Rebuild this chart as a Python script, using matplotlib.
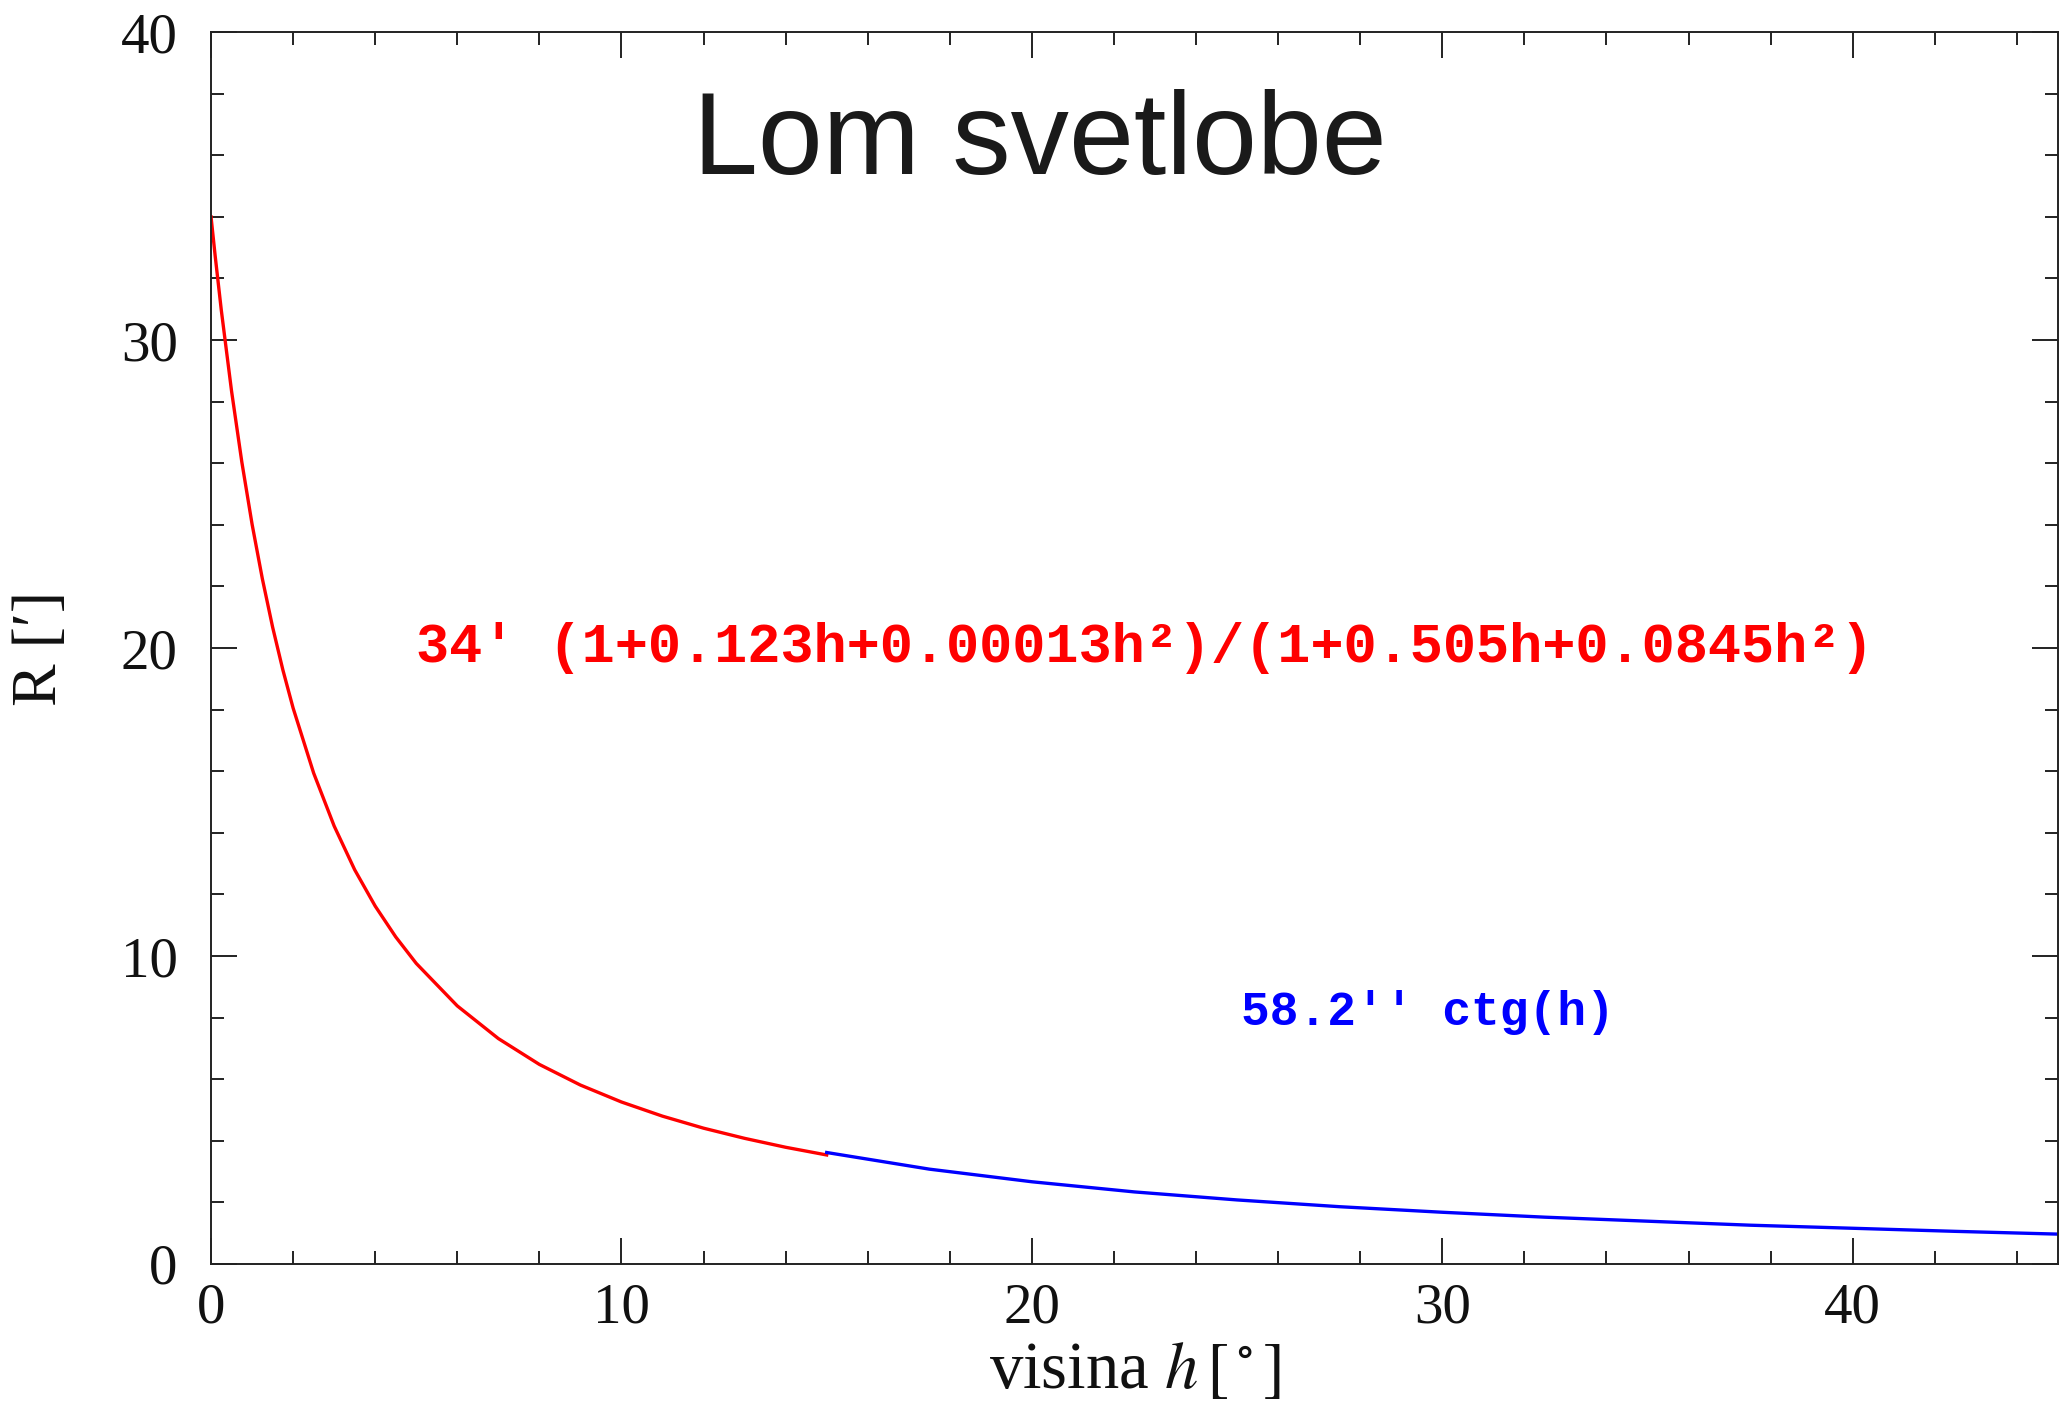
import matplotlib
matplotlib.use("Agg")
import matplotlib.pyplot as plt
from matplotlib.ticker import MultipleLocator

# refraction R [arcmin]
h_red = [0, 0.1, 0.25, 0.5, 0.75, 1, 1.25, 1.5, 1.75, 2, 2.5, 3, 3.5, 4, 4.5,
         5, 6, 7, 8, 9, 10, 11, 12, 13, 14, 15]
r_red = [34.0, 32.74, 30.97, 28.34, 26.04, 24.02, 22.25, 20.68, 19.29, 18.05,
         15.94, 14.22, 12.80, 11.62, 10.62, 9.76, 8.38, 7.32, 6.48, 5.81,
         5.26, 4.80, 4.41, 4.08, 3.79, 3.54]

h_blue = [15, 17.5, 20, 22.5, 25, 27.5, 30, 32.5, 35, 37.5, 40, 42.5, 45]
r_blue = [3.62, 3.08, 2.67, 2.34, 2.08, 1.86, 1.68, 1.52, 1.39, 1.26, 1.16,
          1.06, 0.97]

title = "Lom svetlobe"
red_label = "34' (1+0.123h+0.00013h²)/(1+0.505h+0.0845h²)"
blue_label = "58.2'' ctg(h)"

plt.rcParams['mathtext.fontset'] = 'stix'
serif = ['Liberation Serif', 'DejaVu Serif']
mono = ['Liberation Mono', 'DejaVu Sans Mono']

fig = plt.figure(figsize=(20.67, 14.06), dpi=100)
ax = fig.add_axes([0.1021, 0.1010, 0.8935, 0.8762])

ax.plot(h_red, r_red, color='#ff0000', lw=2.4)
ax.plot(h_blue, r_blue, color='#0000ff', lw=2.4)

ax.set_xlim(0, 45)
ax.set_ylim(0, 40)
ax.xaxis.set_major_locator(MultipleLocator(10))
ax.xaxis.set_minor_locator(MultipleLocator(2))
ax.yaxis.set_major_locator(MultipleLocator(10))
ax.yaxis.set_minor_locator(MultipleLocator(2))

ax.tick_params(which='both', direction='in', top=True, right=True,
               color='#222222', width=1.4)
ax.tick_params(which='major', length=18.5)
ax.tick_params(which='minor', length=9.5)
ax.tick_params(axis='x', which='major', pad=13)
ax.tick_params(axis='y', which='major', pad=24)
for spine in ax.spines.values():
    spine.set_color('#222222')
    spine.set_linewidth(1.4)

for lab in ax.get_xticklabels() + ax.get_yticklabels():
    lab.set_family(serif)
    lab.set_fontsize(41)
    lab.set_color('#111111')

ax.set_xlabel(r'visina $h\,[^\circ]$', family=serif, fontsize=48,
              color='#111111', va='baseline')
ax.xaxis.set_label_coords(0.5, -0.1006)
ax.set_ylabel("R [′]", family=serif, fontsize=46, color='#111111',
              va='center')
ax.yaxis.set_label_coords(-0.092, 0.5)

ax.text(20.2, 35.4, title, ha='center', va='baseline', fontsize=84,
        color='#1a1a1a', family=['Liberation Sans', 'DejaVu Sans'])
ax.text(5, 20, red_label, ha='left', va='center', fontsize=39.8,
        color='#ff0000', family=mono, weight='bold')
ax.text(25.1, 8.15, blue_label, ha='left', va='center', fontsize=34.5,
        color='#0000ff', family=mono, weight='bold')

fig.savefig('out.png', dpi=100)
